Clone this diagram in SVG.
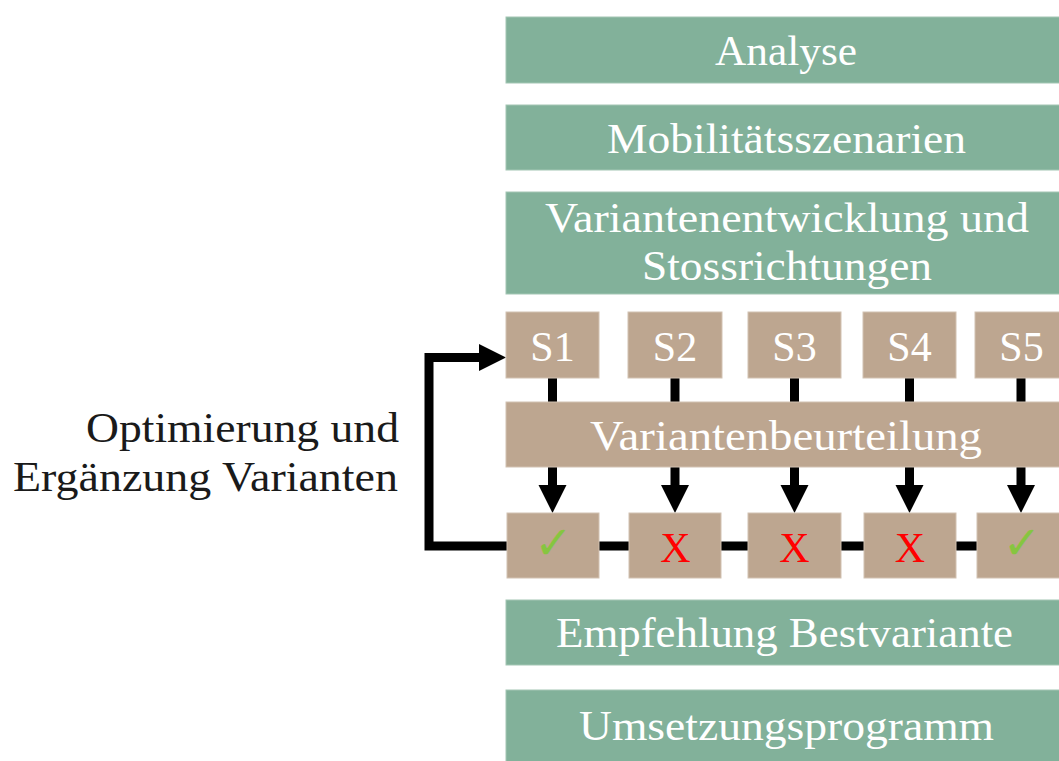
<svg xmlns="http://www.w3.org/2000/svg" width="1059" height="761" viewBox="0 0 1059 761">
<style>
.g{fill:#82B19A;stroke:#A3C6B4;stroke-width:1}
.t{fill:#BDA690;stroke:#D2C2B2;stroke-width:1}
.wt{font-family:"Liberation Serif",serif;font-size:42px;fill:#ffffff;text-anchor:middle}
.lt{font-family:"Liberation Serif",serif;font-size:42px;fill:#1a1a1a;text-anchor:end}
.x{font-family:"Liberation Serif",serif;font-size:42px;fill:#ff0000;text-anchor:middle}
.ck{font-family:"DejaVu Sans",sans-serif;font-size:46px;fill:#86C540;text-anchor:middle}
.c{stroke:#000;stroke-width:9;fill:none}
</style>
<rect width="1059" height="761" fill="#ffffff"/>
<g id="connectors">
<path class="c" d="M521,546 H429 V357.5 H482"/>
<polygon points="479,344 506,357.5 479,371" fill="#000"/>
<line class="c" x1="521" y1="546" x2="1021" y2="546"/>
<line class="c" x1="552.5" y1="377" x2="552.5" y2="403"/>
<line class="c" x1="675" y1="377" x2="675" y2="403"/>
<line class="c" x1="794.5" y1="377" x2="794.5" y2="403"/>
<line class="c" x1="909.5" y1="377" x2="909.5" y2="403"/>
<line class="c" x1="1021" y1="377" x2="1021" y2="403"/>
<line class="c" x1="552.5" y1="466" x2="552.5" y2="490"/>
<line class="c" x1="675" y1="466" x2="675" y2="490"/>
<line class="c" x1="794.5" y1="466" x2="794.5" y2="490"/>
<line class="c" x1="909.5" y1="466" x2="909.5" y2="490"/>
<line class="c" x1="1021" y1="466" x2="1021" y2="490"/>
<polygon points="538.5,485 566.5,485 552.5,513" fill="#000"/>
<polygon points="661,485 689,485 675,513" fill="#000"/>
<polygon points="780.5,485 808.5,485 794.5,513" fill="#000"/>
<polygon points="895.5,485 923.5,485 909.5,513" fill="#000"/>
<polygon points="1007,485 1035,485 1021,513" fill="#000"/>
</g>
<g id="analyse"><rect class="g" x="506" y="17" width="570" height="66"/><text class="wt" x="786" y="65" textLength="142" lengthAdjust="spacingAndGlyphs">Analyse</text></g>
<g id="mobilitaet"><rect class="g" x="506" y="105" width="570" height="65"/><text class="wt" x="786.5" y="153" textLength="359" lengthAdjust="spacingAndGlyphs">Mobilitätsszenarien</text></g>
<g id="variantenentwicklung"><rect class="g" x="506" y="192" width="570" height="102"/><text class="wt" x="787" y="232" textLength="484" lengthAdjust="spacingAndGlyphs">Variantenentwicklung und</text><text class="wt" x="787" y="280" textLength="290" lengthAdjust="spacingAndGlyphs">Stossrichtungen</text></g>
<g id="s1"><rect class="t" x="506" y="312" width="93" height="66"/><text class="wt" x="552.5" y="361">S1</text></g>
<g id="s2"><rect class="t" x="628" y="312" width="94" height="66"/><text class="wt" x="675" y="361">S2</text></g>
<g id="s3"><rect class="t" x="748" y="312" width="93" height="66"/><text class="wt" x="794.5" y="361">S3</text></g>
<g id="s4"><rect class="t" x="863" y="312" width="93" height="66"/><text class="wt" x="909.5" y="361">S4</text></g>
<g id="s5"><rect class="t" x="975" y="312" width="93" height="66"/><text class="wt" x="1021.5" y="361">S5</text></g>
<g id="variantenbeurteilung"><rect class="t" x="506" y="402" width="570" height="65"/><text class="wt" x="786" y="450" textLength="392" lengthAdjust="spacingAndGlyphs">Variantenbeurteilung</text></g>
<g id="r1"><rect class="t" x="507" y="513" width="92" height="65"/><text class="ck" x="553.5" y="559">✓</text></g>
<g id="r2"><rect class="t" x="629" y="513" width="92" height="65"/><text class="x" x="675.5" y="562">X</text></g>
<g id="r3"><rect class="t" x="748" y="513" width="93" height="65"/><text class="x" x="794.5" y="562">X</text></g>
<g id="r4"><rect class="t" x="864" y="513" width="92" height="65"/><text class="x" x="910" y="562">X</text></g>
<g id="r5"><rect class="t" x="977" y="513" width="92" height="65"/><text class="ck" x="1022" y="559">✓</text></g>
<g id="empfehlung"><rect class="g" x="506" y="600" width="570" height="65"/><text class="wt" x="784.5" y="647" textLength="457" lengthAdjust="spacingAndGlyphs">Empfehlung Bestvariante</text></g>
<g id="umsetzung"><rect class="g" x="506" y="690" width="570" height="85"/><text class="wt" x="786.5" y="740" textLength="415" lengthAdjust="spacingAndGlyphs">Umsetzungsprogramm</text></g>
<g id="loop-label"><text class="lt" x="399" y="442" textLength="313" lengthAdjust="spacingAndGlyphs">Optimierung und</text><text class="lt" x="398" y="491" textLength="385" lengthAdjust="spacingAndGlyphs">Ergänzung Varianten</text></g>
</svg>
